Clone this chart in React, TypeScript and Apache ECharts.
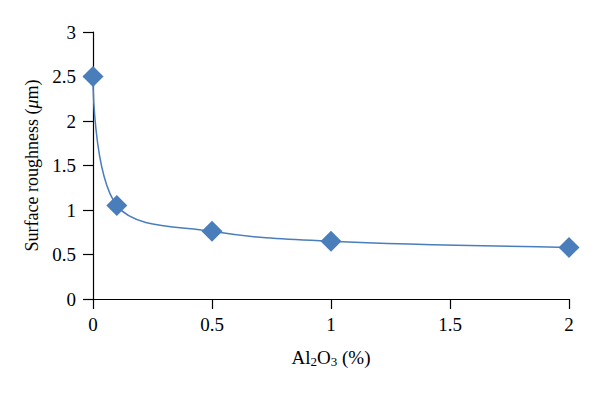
import React, { useEffect, useRef } from "react";
import * as echarts from "echarts";

const xValues = [0, 0.1, 0.5, 1, 2];
const roughness = [2.5, 1.05, 0.76, 0.65, 0.58];

export default function App() {
  const ref = useRef<HTMLDivElement>(null);
  useEffect(() => {
    if (!ref.current) return;
    const chart = echarts.init(ref.current, null, { renderer: "svg" });
    const font = "'Liberation Serif', 'Times New Roman', serif";
    chart.setOption({
      animation: false,
      backgroundColor: "#ffffff",
      grid: { left: 93, right: 31, top: 32, bottom: 95 },
      xAxis: {
        type: "value",
        min: 0,
        max: 2,
        interval: 0.5,
        splitLine: { show: false },
        axisLine: { show: true, lineStyle: { color: "#000", width: 1.2 } },
        axisTick: { show: true, length: 10, lineStyle: { color: "#000", width: 1.2 } },
        axisLabel: { color: "#000", fontFamily: font, fontSize: 19, margin: 16 },
        name: "{n|Al}{s|2}{n|O}{s|3}{n| (%)}",
        nameLocation: "middle",
        nameGap: 48,
        nameTextStyle: {
          rich: {
            n: { fontFamily: font, fontSize: 19, color: "#000" },
            s: { fontFamily: font, fontSize: 13, color: "#000", padding: [8, 0, 0, 0] },
          },
        },
      },
      yAxis: {
        type: "value",
        min: 0,
        max: 3,
        interval: 0.5,
        splitLine: { show: false },
        axisLine: { show: true, lineStyle: { color: "#000", width: 1.2 } },
        axisTick: { show: true, length: 10, lineStyle: { color: "#000", width: 1.2 } },
        axisLabel: { color: "#000", fontFamily: font, fontSize: 19, margin: 17 },
        name: "{n|Surface roughness (}{i|μ}{n|m)}",
        nameLocation: "middle",
        nameGap: 50,
        nameRotate: 90,
        nameTextStyle: {
          rich: {
            n: { fontFamily: font, fontSize: 18, color: "#000" },
            i: { fontFamily: font, fontSize: 18, color: "#000", fontStyle: "italic" },
          },
        },
      },
      series: [
        {
          type: "line",
          data: xValues.map((x, i) => [x, roughness[i]]),
          smooth: 0.35,
          symbol: "diamond",
          symbolSize: 21,
          lineStyle: { color: "#4A7EBB", width: 1.5 },
          itemStyle: { color: "#4A7EBB" },
        },
      ],
    });
    return () => chart.dispose();
  }, []);
  return <div ref={ref} style={{ width: 600, height: 394, position: "absolute", left: 0, top: 0 }} />;
}
